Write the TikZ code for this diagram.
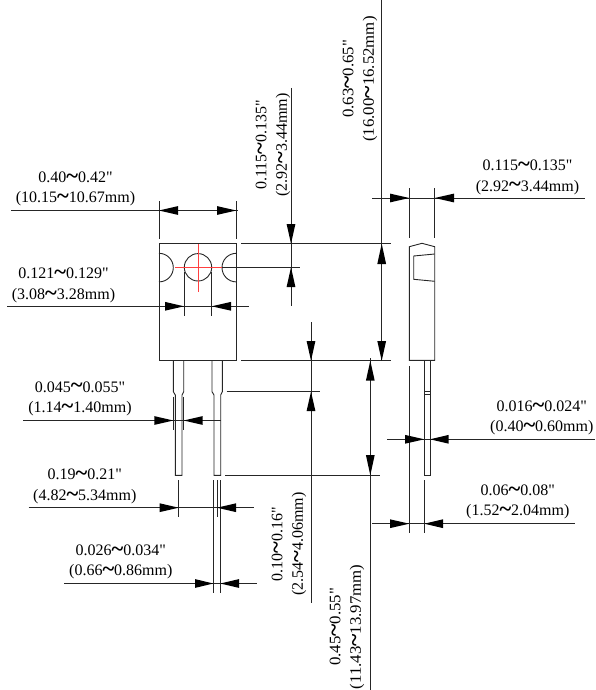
\documentclass[tikz,border=0pt]{standalone}
\usepackage{fontspec}
\setmainfont{Liberation Serif}[Ligatures=TeXOff]
\usetikzlibrary{calc}
\tikzset{
  x=1pt,y=-1pt,
  ln/.style={line width=0.8pt,black!85},
  body/.style={line width=0.9pt,black!85},
  red line/.style={line width=0.8pt,red!75!white},
  lbl/.style={align=center,font=\fontsize{16}{20.5}\selectfont,inner sep=0pt,text=black},
}
\newcommand{\tp}[2]{\fill[black] (#2) -- ($(#1)!4.4pt!90:(#2)$) -- ($(#1)!4.4pt!-90:(#2)$) -- cycle;}
\newcommand{\tl}{\raisebox{-0.8pt}{\fontsize{22.5}{20}\selectfont\bfseries\char126}}
\begin{document}
\begin{tikzpicture}
\useasboundingbox (0,0) rectangle (595,690);
% front body
\draw[body] (159,243.7) rectangle (236.3,360.7);
\draw[body] (198,267.3) circle (13.7);
\draw[body] (159,253.3) arc[start angle=90,end angle=-90,x radius=14.3,y radius=-14.3];
\draw[body] (236.3,253.3) arc[start angle=90,end angle=270,x radius=14.3,y radius=-14.3];
\draw[red line] (175,267.3) -- (221.7,267.3);
\draw[red line] (198,244) -- (198,291.7);
% leads front
\draw[body] (173.3,360.7) -- (173.3,391.7) -- (175.3,395) -- (175.3,475.3) -- (182,475.3) -- (182,395) -- (183.7,391.7) -- (183.7,360.7);
\draw[body] (212,360.7) -- (212,391.7) -- (214,395) -- (214,475.3) -- (220.7,475.3) -- (220.7,395) -- (222.3,391.7) -- (222.3,360.7);
% side view
\draw[body] (409.3,360.4) -- (409.3,246.7) -- (422,243.3) -- (434.7,246.7) -- (434.7,360.4) -- cycle;
\draw[body] (434.7,254) -- (413.7,256) -- (413.7,279.3) -- (434.7,281.3);
\draw[body] (424.3,360.4) -- (424.3,475.3) -- (430,475.3) -- (430,360.4);
\draw[ln] (424.3,391.7) -- (430,391.7) (424.3,394) -- (430,394);
% dim lines
\draw[ln] (159,201) -- (159,239) (236.3,201) -- (236.3,239) (11,210.5) -- (238,210.5);
\draw[ln] (241,243.7) -- (390.7,243.7) (241,360.7) -- (390.7,360.7);
\draw[ln] (222,267.3) -- (300,267.3);
\draw[ln] (291,88) -- (291,306.3);
\draw[ln] (184,271.7) -- (184,315.7) (211.7,271.7) -- (211.7,315.7) (7,306.3) -- (248.7,306.3);
\draw[ln] (311,322) -- (311,603);
\draw[ln] (226.7,391.7) -- (320,391.7) (225,475.3) -- (379.5,475.3);
\draw[ln] (173.6,396.7) -- (173.6,430) (183.7,396.7) -- (183.7,430) (23,420.5) -- (220.7,420.5);
\draw[ln] (178.7,480) -- (178.7,516.7) (217,480) -- (217,516.7) (28.7,507.7) -- (254,507.7);
\draw[ln] (213.3,480) -- (213.3,593.3) (220.3,480) -- (220.3,593.3) (64,583.5) -- (257,583.5);
\draw[ln] (409.3,188.3) -- (409.3,238.3) (434.7,188.3) -- (434.7,238.3) (372,198) -- (585,198);
\draw[ln] (381.7,0) -- (381.7,360.7);
\draw[ln] (370.3,358) -- (370.3,690);
\draw[ln] (409.3,366) -- (409.3,533) (424.3,480) -- (424.3,533);
\draw[ln] (387,439.3) -- (595,439.3);
\draw[ln] (372,523.7) -- (575,523.7);
% arrowheads
\tp{178,210.5}{159,210.5}\tp{217,210.5}{236.3,210.5}
\tp{291,224}{291,243.7}\tp{291,287}{291,267.3}
\tp{165,306.3}{184,306.3}\tp{231,306.3}{211.7,306.3}
\tp{311,341}{311,360.7}\tp{311,411}{311,391.7}
\tp{154.3,420.5}{173.3,420.5}\tp{202.7,420.5}{183.7,420.5}
\tp{159.7,507.7}{178.7,507.7}\tp{236,507.7}{217,507.7}
\tp{195,583.5}{213.3,583.5}\tp{239,583.5}{220.3,583.5}
\tp{390,198}{409.3,198}\tp{454,198}{434.7,198}
\tp{381.7,264}{381.7,243.7}\tp{381.7,341}{381.7,360.7}
\tp{370.3,380.7}{370.3,360.7}\tp{370.3,455}{370.3,475.3}
\tp{405,439.3}{424.3,439.3}\tp{448.7,439.3}{430,439.3}
\tp{390,523.7}{409.3,523.7}\tp{443,523.7}{424.3,523.7}
% labels
\node[lbl] (a) at (75.5,189) {0.40\tl 0.42"\\(10.15\tl 10.67mm)};
\node[lbl] (b) at (63.5,285.5) {0.121\tl 0.129"\\(3.08\tl 3.28mm)};
\node[lbl] (c) at (80,398.7) {0.045\tl 0.055"\\(1.14\tl 1.40mm)};
\node[lbl] (d) at (84.8,486.5) {0.19\tl 0.21"\\(4.82\tl 5.34mm)};
\node[lbl] (e) at (120.8,562) {0.026\tl 0.034"\\(0.66\tl 0.86mm)};
\node[lbl] (f) at (527.5,177.3) {0.115\tl 0.135"\\(2.92\tl 3.44mm)};
\node[lbl] (g) at (541.8,418) {0.016\tl 0.024"\\(0.40\tl 0.60mm)};
\node[lbl] (h) at (517.8,502) {0.06\tl 0.08"\\(1.52\tl 2.04mm)};
\node[lbl,rotate=90] (i) at (273,145) {0.115\tl 0.135"\\(2.92\tl 3.44mm)};
\node[lbl,rotate=90,xscale=1.05] (j) at (360,79) {0.63\tl 0.65"\\(16.00\tl 16.52mm)};
\node[lbl,rotate=90] (k) at (289,544) {0.10\tl 0.16"\\(2.54\tl 4.06mm)};
\node[lbl,rotate=90,xscale=1.05] (l) at (347,627) {0.45\tl 0.55"\\(11.43\tl 13.97mm)};
\end{tikzpicture}
\end{document}
